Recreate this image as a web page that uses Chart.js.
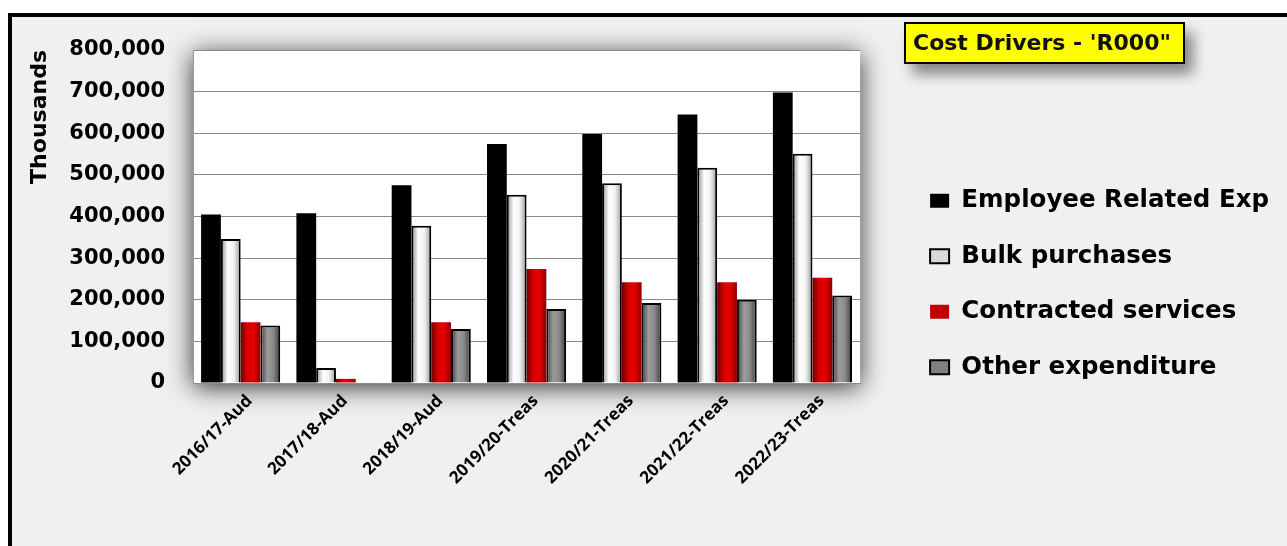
<!DOCTYPE html>
<html>
<head>
<meta charset="utf-8">
<script src="https://cdn.jsdelivr.net/npm/chart.js@4/dist/chart.umd.min.js"></script>
<style>
    body { margin:0; background:#ffffff; overflow:hidden; font-family:'DejaVu Sans', sans-serif; }
    #wrapper { position:relative; width:1287px; height:546px; overflow:hidden; }
    #marco { position:absolute; left:8px; top:13px; width:1300px; height:560px; border:4px solid #000; background:#f0f0f0; }
    #grafica { position:absolute; left:0; top:0; }
    #titulo { position:absolute; left:904px; top:22px; width:270px; height:38px; border:2px solid #000; background:#ffff00;
        box-shadow:8px 10px 14px rgba(0,0,0,0.45); font-weight:bold; font-size:22px; line-height:38px; padding-left:7px; color:#111; white-space:nowrap; }
</style>
</head>
<body>
<div id="wrapper">
    <div id="marco"></div>
    <canvas id="grafica" width="1287" height="546"></canvas>
    <div id="titulo">Cost Drivers - 'R000"</div>
</div>
<script>
var categorias = ['2016/17-Aud', '2017/18-Aud', '2018/19-Aud', '2019/20-Treas', '2020/21-Treas', '2021/22-Treas', '2022/23-Treas'];
var empleados = [405000, 408000, 475000, 574000, 598000, 645000, 698000];
var compras = [346000, 36000, 378000, 452000, 480000, 517000, 551000];
var contratados = [146000, 10000, 146000, 274000, 242000, 242000, 253000];
var otros = [138000, 2000, 130000, 178000, 192000, 200000, 210000];
var ticksY = [0, 100000, 200000, 300000, 400000, 500000, 600000, 700000, 800000];

// gradient stops per dataset (left -> right across the bar)
var brillos = [
    null,
    ['#8c8c8c', '#ffffff', '#f2f2f2', '#9a9a9a'],
    ['#6e0000', '#d80000', '#e60000', '#8a0000'],
    ['#3c3c3c', '#9c9c9c', '#8a8a8a', '#3a3a3a']
];

var fuente = 'DejaVu Sans';

var fondoPlot = {
    id: 'fondoPlot',
    beforeDraw(chart) {
        var a = chart.chartArea, ctx = chart.ctx;
        ctx.save();
        ctx.shadowColor = 'rgba(0,0,0,0.8)';
        ctx.shadowBlur = 24;
        ctx.shadowOffsetY = 4;
        ctx.fillStyle = '#ffffff';
        ctx.fillRect(a.left, a.top, a.right - a.left, a.bottom - a.top);
        ctx.restore();
    }
};

var brilloBarras = {
    id: 'brilloBarras',
    beforeDatasetsDraw(chart) {
        var ctx = chart.ctx;
        chart.data.datasets.forEach((ds, i) => {
            var stops = brillos[i];
            if (!stops) return;
            chart.getDatasetMeta(i).data.forEach(el => {
                var p = el.getProps(['x', 'width'], true);
                var izq = p.x - p.width / 2;
                var g = ctx.createLinearGradient(izq, 0, izq + p.width, 0);
                g.addColorStop(0, stops[0]);
                g.addColorStop(0.35, stops[1]);
                g.addColorStop(0.65, stops[2]);
                g.addColorStop(1, stops[3]);
                el.options = Object.assign({}, el.options, {backgroundColor: g});
            });
        });
    }
};

var moverLeyenda = {
    id: 'moverLeyenda',
    afterLayout(chart) {
        chart.legend.left += 39;
        chart.legend.right += 39;
    }
};

var chart = new Chart(document.getElementById('grafica'), {
    type: 'bar',
    data: {
        labels: categorias,
        datasets: [
            {label: 'Employee Related Exp', data: empleados, backgroundColor: '#000000', borderWidth: 0},
            {label: 'Bulk purchases', data: compras, backgroundColor: '#d9d9d9', borderColor: '#000000', borderWidth: 2},
            {label: 'Contracted services', data: contratados, backgroundColor: '#c00000', borderColor: '#5a0000', borderWidth: 0},
            {label: 'Other expenditure', data: otros, backgroundColor: '#808080', borderColor: '#000000', borderWidth: 2}
        ]
    },
    options: {
        responsive: false,
        animation: false,
        devicePixelRatio: 1,
        categoryPercentage: 0.83,
        barPercentage: 1,
        layout: {padding: {left: 0, top: 50, right: 47, bottom: 28}},
        plugins: {
            title: {display: false},
            tooltip: {enabled: false},
            legend: {
                position: 'right',
                maxWidth: 420,
                labels: {
                    color: '#000',
                    boxWidth: 19,
                    boxHeight: 14,
                    padding: 31,
                    font: {family: fuente, size: 24.5, weight: 'bold'}
                }
            }
        },
        scales: {
            x: {
                grid: {display: false},
                border: {color: '#8c8c8c'},
                ticks: {
                    color: '#000',
                    minRotation: 45,
                    maxRotation: 45,
                    padding: 0,
                    labelOffset: 9,
                    font: {family: 'Open Sans', size: 17, weight: 'bold'}
                },
                afterFit(axis) { axis.height = 546 - 28 - 383; }
            },
            y: {
                min: 0,
                max: 800000,
                afterBuildTicks(axis) { axis.ticks = ticksY.map(v => ({value: v})); },
                grid: {color: '#8a8a8a', drawTicks: false},
                border: {color: '#9a9a9a'},
                ticks: {
                    color: '#000',
                    padding: 28,
                    font: {family: fuente, size: 21, weight: 'bold'},
                    callback: v => v.toLocaleString('en-US')
                },
                title: {
                    display: true,
                    text: 'Thousands',
                    color: '#000',
                    align: 'end',
                    padding: {top: 27, bottom: 0},
                    font: {family: fuente, size: 22, weight: 'bold'}
                },
                afterFit(axis) { axis.width = 193; }
            }
        }
    },
    plugins: [fondoPlot, brilloBarras, moverLeyenda]
});
</script>
</body>
</html>
